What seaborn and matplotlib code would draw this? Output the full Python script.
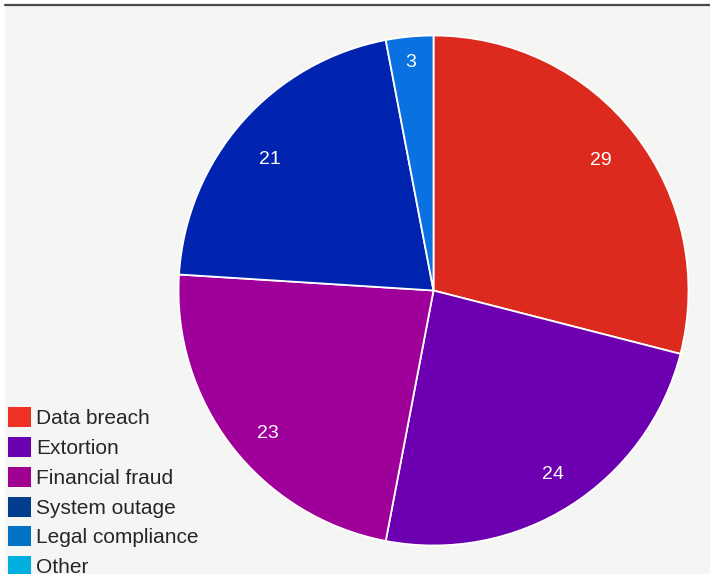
import matplotlib
matplotlib.use("Agg")
import matplotlib.pyplot as plt
from matplotlib.patches import Patch, Rectangle
from matplotlib.lines import Line2D
from matplotlib.transforms import offset_copy
import numpy as np
import seaborn as sns

# Incident categories and counts
categories = ["Data breach", "Extortion", "Financial fraud", "System outage",
              "Legal compliance", "Other"]
counts = [29, 24, 23, 21, 3, 0]

# Slice fills and legend swatch colours
slice_colors = ["#dc2a1f", "#6c00b0", "#a0009a", "#0024b0", "#0a72e0", "#00b0de"]
legend_colors = ["#ee3124", "#6a00b0", "#a0008f", "#003d8c", "#0072c5", "#00b0de"]

# Value-label placement: fraction of radius, and angular nudge (degrees, ccw)
label_radius = [0.84, 0.85, 0.85, 0.83, 0.91]
label_nudge = [0.7, 1.1, 2.3, 2.0, 0.3]

sns.set_theme(style="white")
plt.rcParams["font.family"] = ["Liberation Sans", "DejaVu Sans"]

W, H = 710, 574
fig = plt.figure(figsize=(W / 100, H / 100), dpi=100, facecolor="white")

# Panel background and top rule
fig.patches.append(Rectangle((5 / W, 0), 1 - 5 / W, 1 - 5 / H,
                             transform=fig.transFigure, facecolor="#f5f5f3",
                             edgecolor="none", zorder=-5))
fig.lines.append(Line2D([5 / W, 1], [1 - 5 / H, 1 - 5 / H],
                        transform=fig.transFigure, color="#4a4a4a", lw=1.6))

# Pie axes: centre (433.5, 290.5) px, radius 255 px
cx, cy, r = 433.5, 290.5, 255
ax = fig.add_axes([(cx - r) / W, (H - cy - r) / H, 2 * r / W, 2 * r / H])
ax.set_facecolor("none")
ax.set_zorder(2)

vals = [v for v in counts if v > 0]
cols = [c for v, c in zip(counts, slice_colors) if v > 0]
wedges, texts, autotexts = ax.pie(
    vals, colors=cols, startangle=90, counterclock=False, radius=1.0,
    autopct=lambda p: f"{round(p * sum(vals) / 100):d}", pctdistance=0.84,
    wedgeprops=dict(edgecolor="white", linewidth=1.3),
    textprops=dict(color="white", fontsize=14))
label_tf = offset_copy(ax.transData, fig=fig, x=0, y=-2.2, units="points")
for w, t, rf, dn in zip(wedges, autotexts, label_radius, label_nudge):
    mid = np.deg2rad((w.theta1 + w.theta2) / 2 + dn)
    t.set_position((rf * np.cos(mid), rf * np.sin(mid)))
    t.set_transform(label_tf)
ax.set_xlim(-1, 1)
ax.set_ylim(-1, 1)
ax.axis("off")

handles = [Patch(facecolor=c, edgecolor="none") for c in legend_colors]
leg = fig.legend(handles, categories, loc="upper left",
                 bbox_to_anchor=(8 / W, 1 - 407 / H), borderaxespad=0,
                 borderpad=0, frameon=False, fontsize=15, handlelength=1.1,
                 handleheight=1.1, handletextpad=0.25, labelspacing=0.42)
leg.set_zorder(3)

fig.savefig("out.png", dpi=100, facecolor=fig.get_facecolor())
